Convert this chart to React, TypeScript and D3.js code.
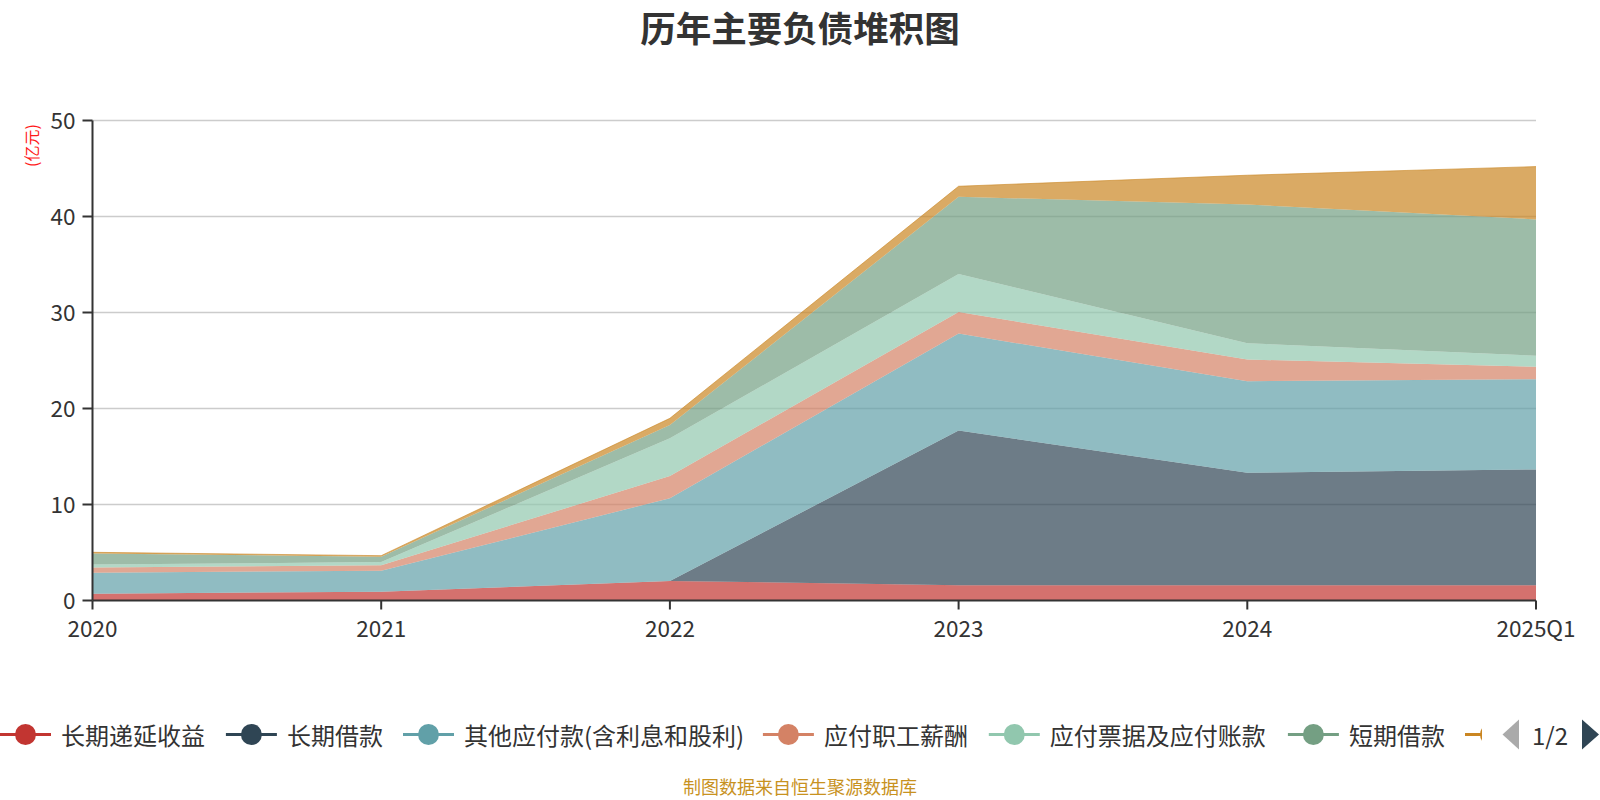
import React from "react";
import * as d3 from "d3";

// 数据 (亿元)
const categories = ["2020", "2021", "2022", "2023", "2024", "2025Q1"];
const seriesNames = [
  "长期递延收益",
  "长期借款",
  "其他应付款(含利息和股利)",
  "应付职工薪酬",
  "应付票据及应付账款",
  "短期借款",
  "合同负债",
];
const deferredIncome = [0.7, 0.92, 2.03, 1.6, 1.6, 1.6];
const longTermLoans = [0, 0, 0, 16.1, 11.7, 12.05];
const otherPayables = [2.2, 2.18, 8.62, 10.1, 9.55, 9.4];
const payroll = [0.55, 0.56, 2.32, 2.25, 2.25, 1.3];
const notesPayable = [0.3, 0.34, 3.93, 3.95, 1.7, 1.15];
const shortTermLoans = [1.15, 0.56, 1.38, 8.05, 14.45, 14.2];
const contractLiab = [0.12, 0.11, 0.7, 1.1, 3.05, 5.5];
const yTicks = [0, 10, 20, 30, 40, 50];

const seriesValues = [
  deferredIncome,
  longTermLoans,
  otherPayables,
  payroll,
  notesPayable,
  shortTermLoans,
  contractLiab,
];
const colors = ["#c23531", "#2f4554", "#61a0a8", "#d48265", "#91c7ae", "#749f83", "#ca8622"];

const W = 1600;
const H = 800;
const margin = { left: 92.5, right: 64, top: 120.5, bottom: 199.5 };
const font = "'Noto Sans CJK SC', 'Noto Sans', sans-serif";

export default function App() {
  const x = d3
    .scalePoint<string>()
    .domain(categories)
    .range([margin.left, W - margin.right]);
  const y = d3
    .scaleLinear()
    .domain([0, 50])
    .range([H - margin.bottom, margin.top]);

  const rows = categories.map((c, i) => {
    const r: Record<string, number | string> = { cat: c };
    seriesNames.forEach((n, k) => (r[n] = seriesValues[k][i]));
    return r;
  });
  const stacked = d3.stack<any>().keys(seriesNames)(rows);

  const area = d3
    .area<any>()
    .x((d) => x(d.data.cat) ?? 0)
    .y0((d) => y(d[0]))
    .y1((d) => y(d[1]));

  // legend layout: widths estimated from the glyphs
  const textW = (s: string) =>
    Array.from(s).reduce((a, ch) => a + (/[\x00-\x7f]/.test(ch) ? 6 : 24.4), 0);
  let cursor = 0;
  const legendItems = seriesNames.map((n, i) => {
    const item = { name: n, color: colors[i], x: cursor };
    cursor += 51 + 10 + textW(n) + 18.5;
    return item;
  });
  const legendY = 734.5;
  const clipRight = 1482;

  return (
    <svg
      width={W}
      height={H}
      style={{ position: "absolute", left: 0, top: 0, background: "#fff" }}
      fontFamily={font}
    >
      <text
        x={800}
        y={26}
        textAnchor="middle"
        dominantBaseline="central"
        fontSize={35.5}
        fontWeight="bold"
        fill="#333"
      >
        历年主要负债堆积图
      </text>

      {/* grid */}
      {yTicks.slice(1).map((t) => (
        <line
          key={t}
          x1={margin.left}
          x2={W - margin.right}
          y1={y(t)}
          y2={y(t)}
          stroke="#ccc"
          strokeWidth={1.5}
        />
      ))}

      {/* stacked areas */}
      {stacked.map((s, i) => (
        <path key={s.key} d={area(s) ?? ""} fill={colors[i]} fillOpacity={0.7} />
      ))}
      <path
        d={
          d3
            .line<any>()
            .x((d) => x(d.data.cat) ?? 0)
            .y((d) => y(d[1]))(stacked[stacked.length - 1]) ?? ""
        }
        fill="none"
        stroke={colors[6]}
        strokeOpacity={0.6}
        strokeWidth={1}
      />

      {/* y axis */}
      <line x1={margin.left} x2={margin.left} y1={margin.top} y2={y(0)} stroke="#333" strokeWidth={2} />
      {yTicks.map((t) => (
        <g key={t}>
          <line x1={margin.left - 10} x2={margin.left} y1={y(t)} y2={y(t)} stroke="#333" strokeWidth={2} />
          <text
            x={margin.left - 17}
            y={y(t) - 2}
            textAnchor="end"
            dominantBaseline="central"
            fontSize={22.5}
            fill="#333"
          >
            {t}
          </text>
        </g>
      ))}
      <text
        transform={`translate(31,145.5) rotate(-90)`}
        textAnchor="middle"
        dominantBaseline="central"
        fontSize={16}
        fill="#ff1a1a"
      >
        (亿元)
      </text>

      {/* x axis */}
      <line x1={margin.left} x2={W - margin.right} y1={y(0)} y2={y(0)} stroke="#333" strokeWidth={2} />
      {categories.map((c) => (
        <g key={c}>
          <line x1={x(c)} x2={x(c)} y1={y(0)} y2={y(0) + 9} stroke="#333" strokeWidth={2} />
          <text
            x={x(c)}
            y={y(0) + 26}
            textAnchor="middle"
            dominantBaseline="central"
            fontSize={22.5}
            fill="#333"
          >
            {c}
          </text>
        </g>
      ))}

      {/* legend, page 1 of 2; the last item is cut by the pager */}
      <defs>
        <clipPath id="legendClip">
          <rect x={0} y={700} width={clipRight} height={70} />
        </clipPath>
      </defs>
      <g clipPath="url(#legendClip)">
        {legendItems.map((it) => (
          <g key={it.name} transform={`translate(${it.x},${legendY})`}>
            <line x1={0} x2={51} y1={0} y2={0} stroke={it.color} strokeWidth={3} />
            <circle cx={25.5} cy={0} r={10.5} fill={it.color} />
            {it.x + 61 < clipRight - 40 && (
              <text x={61} y={0} dominantBaseline="central" fontSize={24} fill="#333">
                {it.name}
              </text>
            )}
          </g>
        ))}
      </g>
      <path d={`M1519,${legendY - 15} L1502.5,${legendY} L1519,${legendY + 15} Z`} fill="#aaa" />
      <text x={1550} y={legendY} textAnchor="middle" dominantBaseline="central" fontSize={24} fill="#333">
        1/2
      </text>
      <path d={`M1582,${legendY - 15} L1599,${legendY} L1582,${legendY + 15} Z`} fill="#2f4554" />

      <text
        x={800}
        y={786}
        textAnchor="middle"
        dominantBaseline="central"
        fontSize={18}
        fill="#c8921f"
      >
        制图数据来自恒生聚源数据库
      </text>
    </svg>
  );
}
